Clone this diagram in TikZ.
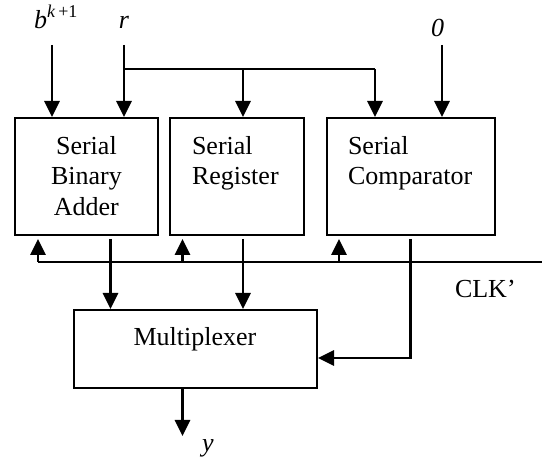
\documentclass[tikz,border=0pt]{standalone}
\usepackage{fontspec}
\setmainfont{Liberation Serif}
\usetikzlibrary{arrows.meta}
\begin{document}
\begin{tikzpicture}[x=0.5pt,y=-0.5pt,
  line width=1pt,
  box/.style={draw,line width=1pt,rectangle,inner sep=0pt},
  txt/.style={inner sep=0pt,font=\fontsize{13}{15.25}\selectfont},
  arr/.style={-{Triangle[length=8pt,width=7.6pt]},line width=1.15pt},
  gap/.style={shorten <=1.5pt}]
\useasboundingbox (0,0) rectangle (542,459);
% blocks
\node[box,minimum width=71.75pt,minimum height=58.5pt] (A) at (86.25,176.5) {};
\node[box,minimum width=67pt,minimum height=58.5pt] (R) at (237,176.5) {};
\node[box,minimum width=84pt,minimum height=58.5pt] (C) at (411,176.5) {};
\node[box,minimum width=121.5pt,minimum height=39pt] (M) at (195.5,349) {};
% block texts
\node[txt,align=center,anchor=north] (At) at (86.4,135) {Serial\\Binary\\Adder};
\node[txt,align=left,anchor=north west] (Rt) at (191,135) {Serial\\Register};
\node[txt,align=left,anchor=north west] (Ct) at (347,135) {Serial\\Comparator};
\node[txt,anchor=base] (Mt) at (195,346) {Multiplexer};
% input labels
\node[txt,anchor=base west] (bl) at (33,29) {\textit{b}\raisebox{5.5pt}{\fontsize{9}{9}\selectfont\textit{k}\,+1}};
\node[txt,anchor=base] (rl) at (124,29) {\textit{r}};
\node[txt,anchor=base] (zl) at (437.5,37) {\textit{0}};
\node[txt,anchor=base] (yl) at (208,452) {\textit{y}};
\node[txt,anchor=base west] (clkl) at (454,298) {CLK’};
% input coordinates
\coordinate (bin) at (52,45);
\coordinate (rin) at (124,45);
\coordinate (zin) at (442,45);
\coordinate (rbr) at (124,69);
\coordinate (rbe) at (375,69);
\coordinate (rreg) at (243,69);
% inputs
\draw[arr] (bin) -- (bin |- A.north);
\draw[arr] (rin) -- (rin |- A.north);
\draw[arr] (zin) -- (zin |- C.north);
\draw (rbr) -- (rbe);
\draw[arr] (rbe) -- (rbe |- C.north);
\draw[arr] (rreg) -- (rreg |- R.north);
% clock
\coordinate (ck0) at (38,262);
\coordinate (ck1) at (182.5,262);
\coordinate (ck2) at (339,262);
\coordinate (ckE) at (542,262);
\draw (ck0) -- (ckE);
\draw[arr,shorten >=1.5pt] (ck0) -- (ck0 |- A.south);
\draw[arr,shorten >=1.5pt] (ck1) -- (ck1 |- R.south);
\draw[arr,shorten >=1.5pt] (ck2) -- (ck2 |- C.south);
% outputs to multiplexer
\coordinate (ao) at (110.5,0);
\coordinate (ro) at (243,0);
\coordinate (co) at (410.5,0);
\coordinate (cbend) at (410.5,358);
\draw[arr,gap] (ao |- A.south) -- (ao |- M.north);
\draw[arr,gap] (ro |- R.south) -- (ro |- M.north);
\draw[arr,gap] (co |- C.south) -- (cbend) -- (cbend -| M.east);
% output
\coordinate (yo) at (182.5,436);
\draw[arr] (yo |- M.south) -- (yo);
\end{tikzpicture}
\end{document}
